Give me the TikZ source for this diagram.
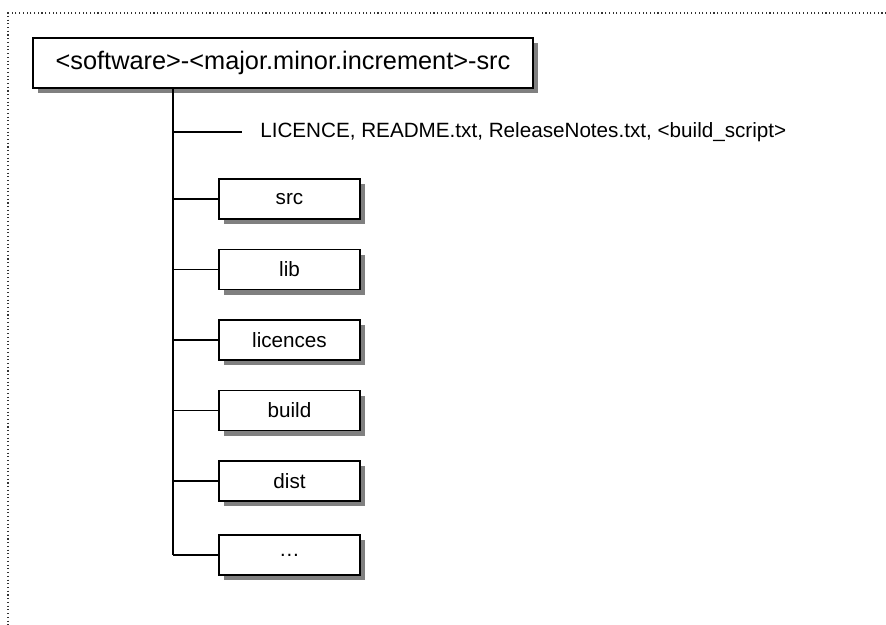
\documentclass[tikz,border=0pt]{standalone}
\usepackage{fontspec}
\setmainfont{Liberation Sans}
\usetikzlibrary{calc,positioning,shadows}
\tikzset{
  wire/.style={black,line width=0.9pt},
  frame/.style={black!80,line width=0.8pt,dotted},
  folder/.style={draw=black,line width=1.1pt,fill=white,minimum width=105.75pt,minimum height=30pt,
                 inner sep=0pt,font=\fontsize{15.5}{18}\selectfont,
                 drop shadow={shadow xshift=4pt,shadow yshift=-4pt,fill=black!50,opacity=1}},
  rootdir/.style={folder,minimum width=375pt,minimum height=37.5pt,font=\fontsize{19}{22}\selectfont},
  files/.style={anchor=west,inner sep=0pt,font=\fontsize{15.5}{18}\selectfont},
}
\begin{document}
\begin{tikzpicture}[x=0.75pt,y=-0.75pt]
  \useasboundingbox (0,0) rectangle (886,625);
  \draw[frame] (890,13) -- (8,13) -- (8,630);

  \node[rootdir] (root) at (283,63) {<software>-<major.minor.increment>-src};
  \coordinate (trunk) at (173,88);

  % plain files next to the folders
  \coordinate (fbranch) at (242,132);
  \node[files] (files) at (260,132) {LICENCE, README.txt, ReleaseNotes.txt, <build\_script>};

  \foreach \n/\yy/\name in {1/199/src, 2/269.5/lib, 3/340/licences, 4/410.5/build, 5/481/dist, 6/555/…}{
    \node[folder] (dir\n) at (289.5,\yy) {\name};
    \draw[wire] (trunk |- dir\n.west) -- (dir\n.west);
  }
  \draw[wire] (trunk |- fbranch) -- (fbranch);
  \draw[wire] (trunk) -- (trunk |- dir6.west);
\end{tikzpicture}
\end{document}
